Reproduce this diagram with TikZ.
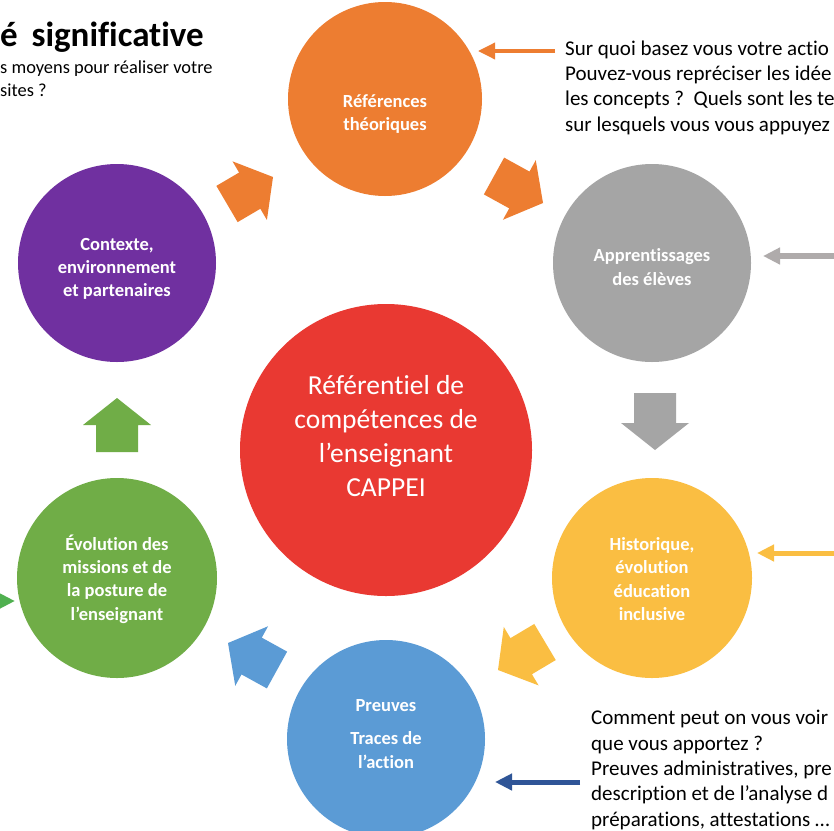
\documentclass[tikz,border=0pt]{standalone}
\usepackage{fontspec}
\setmainfont{Carlito}[Ligatures=NoCommon]
\usetikzlibrary{arrows.meta,calc}
\definecolor{corange}{RGB}{237,125,49}
\definecolor{cgray}{RGB}{165,165,165}
\definecolor{cyellow}{RGB}{250,190,66}
\definecolor{cblue}{RGB}{91,155,213}
\definecolor{cgreen}{RGB}{112,173,71}
\definecolor{cpurple}{RGB}{112,48,160}
\definecolor{cred}{RGB}{233,57,50}
\definecolor{cnavy}{RGB}{47,85,151}
\definecolor{cgreenb}{RGB}{80,176,80}
\definecolor{clinegray}{RGB}{175,171,171}
\newcommand\blockarr[3]{%
  \path ($(#2)!27pt!(#1)$) coordinate (#2h);
  \fill[#3] ($(#1)!21pt!90:(#2)$) -- ($(#2h)!21pt!90:(#2)$) -- ($(#2h)!34pt!90:(#2)$) -- (#2)
    -- ($(#2h)!34pt!-90:(#2)$) -- ($(#2h)!21pt!-90:(#2)$) -- ($(#1)!21pt!-90:(#2)$) -- cycle;
}
\tikzset{
  circ/.style={circle, minimum size=#1, inner sep=0pt, draw=none},
  ctext/.style={text=white, font=\bfseries\fontsize{18.5}{23.3}\selectfont, align=center, inner sep=0pt},
  bigtext/.style={text=white, font=\fontsize{27.5}{34}\selectfont, align=center, inner sep=0pt},
  side/.style={font=\fontsize{21}{25.3}\selectfont, align=left, inner sep=0pt, anchor=base west},
  thinarr/.style={-{Triangle[length=17pt,width=16pt]}},
}
\begin{document}
\begin{tikzpicture}[x=1pt,y=-1pt]
\useasboundingbox (0,0) rectangle (834,830);
\clip (0,0) rectangle (834,830);
\fill[white] (0,0) rectangle (834,830);

% circles
\node[circ=194pt, fill=corange] (ref) at (385,99) {};
\node[circ=198pt, fill=cgray] (app) at (652,263) {};
\node[circ=200pt, fill=cyellow] (his) at (652,578) {};
\node[circ=198pt, fill=cblue] (pre) at (386,739) {};
\node[circ=200pt, fill=cgreen] (evo) at (117,578) {};
\node[circ=198pt, fill=cpurple] (ctx) at (117,263) {};
\node[circ=292pt, fill=cred] (cen) at (386,450) {};

% circle texts
\node[ctext] (tref) at (385,114) {Références\\théoriques};
\node[ctext] (tapp) at (652,267) {Apprentissages\\des élèves};
\node[ctext] (this) at (652,579) {Historique,\\évolution\\éducation\\inclusive};
\node[ctext] (tpre1) at (386,706) {Preuves};
\node[ctext] (tpre2) at (386,750) {Traces de\\l’action};
\node[ctext] (tevo) at (117,579) {Évolution des\\missions et de\\la posture de\\l’enseignant};
\node[ctext] (tctx) at (117,269) {Contexte,\\environnement\\et partenaires};
\node[bigtext] (tcen) at (386,436) {Référentiel de\\compétences de\\l’enseignant\\CAPPEI};

% block arrows
\coordinate (a1t) at (227,204); \coordinate (a1p) at (273,177);
\coordinate (a2t) at (494,176); \coordinate (a2p) at (543,203);
\coordinate (a3t) at (655,393); \coordinate (a3p) at (655,450);
\coordinate (a4t) at (545,642); \coordinate (a4p) at (498,670);
\coordinate (a5t) at (277,670); \coordinate (a5p) at (228,643);
\coordinate (a6t) at (117,452); \coordinate (a6p) at (117,398);
\blockarr{a1t}{a1p}{corange}
\blockarr{a2t}{a2p}{corange}
\blockarr{a3t}{a3p}{cgray}
\blockarr{a4t}{a4p}{cyellow}
\blockarr{a5t}{a5p}{cblue}
\blockarr{a6t}{a6p}{cgreen}

% thin arrows
\coordinate (o1) at (555,51); \coordinate (o2) at (478,51);
\draw[thinarr, corange, line width=3.5pt] (o1) -- (o2);
\coordinate (g1) at (850,256); \coordinate (g2) at (763,256);
\draw[thinarr, clinegray, line width=6pt] (g1) -- (g2);
\coordinate (y1) at (850,553); \coordinate (y2) at (757,553);
\draw[thinarr, cyellow, line width=5pt] (y1) -- (y2);
\coordinate (b1) at (580,782); \coordinate (b2) at (495,782);
\draw[thinarr, cnavy, line width=5pt] (b1) -- (b2);
\coordinate (l1) at (-20,601); \coordinate (l2) at (15,601);
\draw[thinarr, cgreenb, line width=5pt] (l1) -- (l2);

% title and texts (base = baseline of last line)
\node[font=\bfseries\fontsize{35}{40}\selectfont, anchor=base east, inner sep=0pt] (title) at (204,46) {é\hspace{0.4em}significative};
\node[side, font=\fontsize{18.4}{22.4}\selectfont] (sub) at (0,96) {s moyens pour réaliser votre\\sites ?};
\node[side] (q1) at (565,131) {Sur quoi basez vous votre actio\\Pouvez-vous repréciser les idée\\les concepts ?\ \ Quels sont les te\\sur lesquels vous vous appuyez};
\node[side] (q2) at (591,826) {Comment peut on vous voir\\que vous apportez ?\\Preuves administratives, pre\\description et de l’analyse d\\préparations, attestations …};
\end{tikzpicture}
\end{document}
